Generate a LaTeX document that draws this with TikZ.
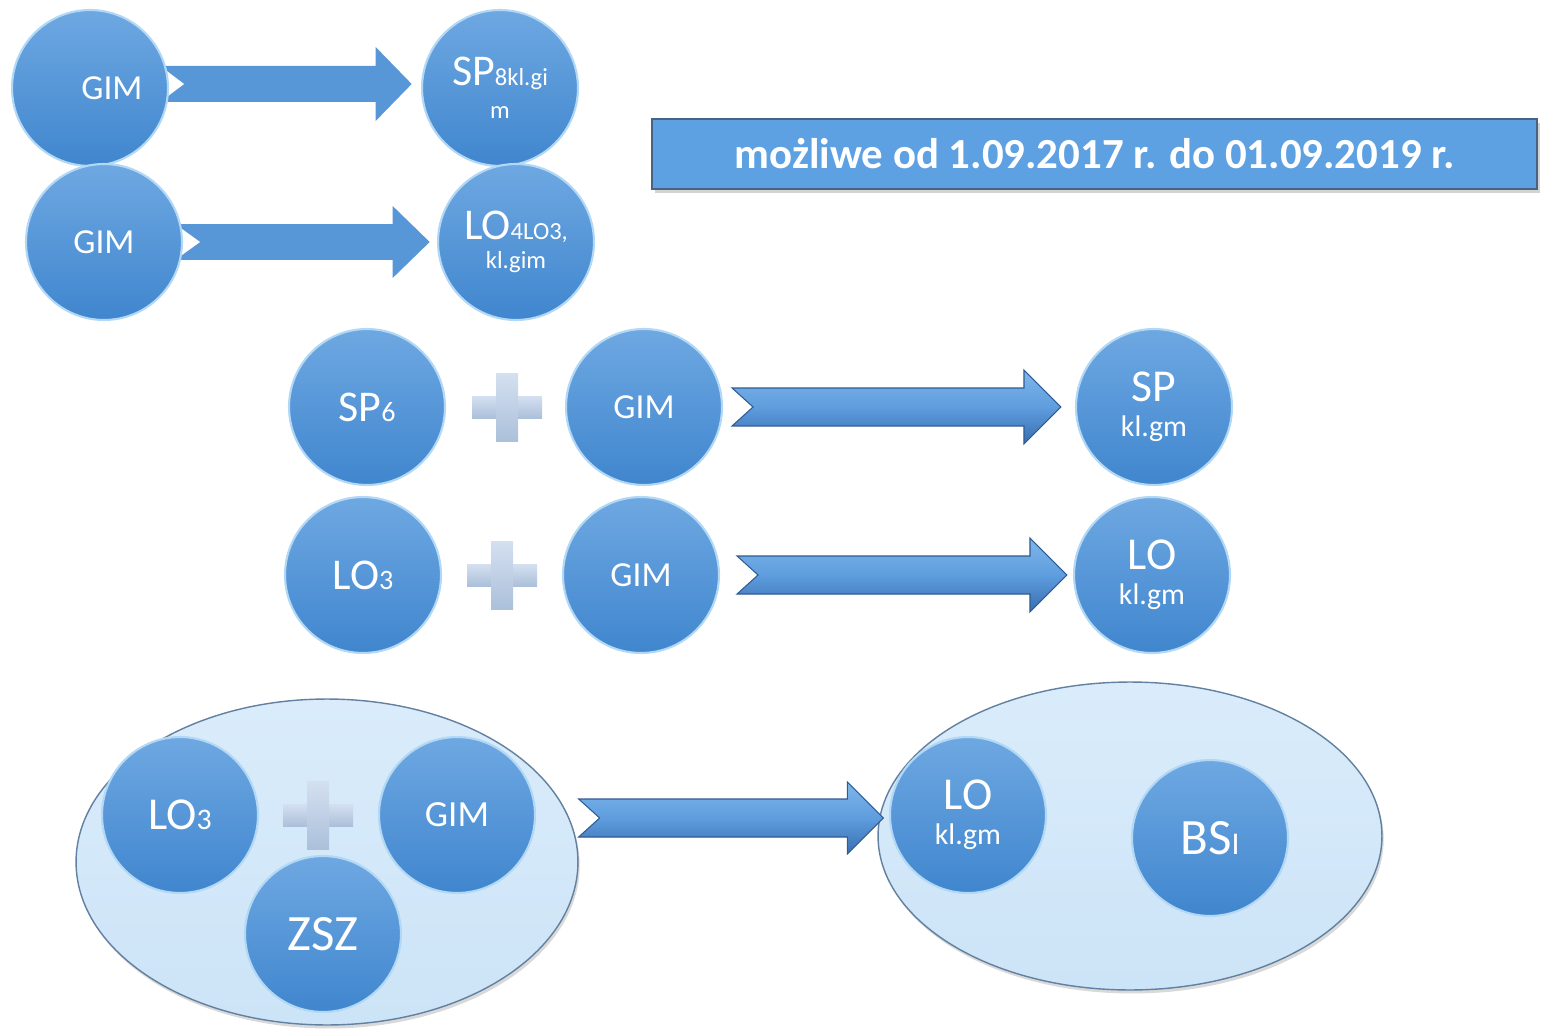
\documentclass[tikz,border=0pt]{standalone}
\usepackage{fontspec}
\setmainfont{Carlito}
\usetikzlibrary{calc,shadows,shapes.geometric}
\definecolor{cirtop}{RGB}{110,168,226}
\definecolor{cirbot}{RGB}{64,134,206}
\definecolor{cirrim}{RGB}{178,216,245}
\definecolor{arrflat}{RGB}{88,151,215}
\definecolor{arrtop}{RGB}{128,182,234}
\definecolor{arrmid}{RGB}{94,157,222}
\definecolor{arrbot}{RGB}{56,110,176}
\definecolor{arrline}{RGB}{48,92,148}
\definecolor{plustop}{RGB}{212,224,240}
\definecolor{plusbot}{RGB}{172,192,218}
\definecolor{ellfill}{RGB}{204,228,247}
\definecolor{elltop}{RGB}{218,236,251}
\definecolor{elldraw}{RGB}{98,128,160}
\definecolor{hdrfill}{RGB}{94,161,226}
\definecolor{hdrdraw}{RGB}{72,100,130}
\newcommand\fsz[1]{\fontsize{#1}{#1}\selectfont}
% block arrow: tail, tip, shaft half, head half, head length, notch, style
\newcommand\blockarrow[7]{%
  \path[#7] let \p1=(#1), \p2=(#2) in
   (\x1,{\y2+#3}) -- ({\x2-#5},{\y2+#3}) -- ({\x2-#5},{\y2+#4}) -- (\x2,\y2)
   -- ({\x2-#5},{\y2-#4}) -- ({\x2-#5},{\y2-#3}) -- (\x1,{\y2-#3})
   -- ({\x1+#6},\y2) -- cycle;}
\newcommand\plussign[1]{%
  \path[plusst] ($(#1)+(-35,-11)$) rectangle ($(#1)+(35,11)$);
  \path[plusst] ($(#1)+(-11,-34)$) rectangle ($(#1)+(11,34)$);}
\tikzset{
  circ/.style={circle, minimum size=3.12cm, inner sep=0pt, top color=cirtop,
    bottom color=cirbot, draw=cirrim, line width=1.2pt, text=white, align=center},
  ghost/.style={circle, minimum size=3.12cm, inner sep=0pt},
  flatarr/.style={fill=arrflat},
  bevarr/.style={top color=arrtop, bottom color=arrbot, middle color=arrmid,
    draw=arrline, line width=0.6pt},
  plusst/.style={top color=plustop, bottom color=plusbot},
  bigell/.style={ellipse, inner sep=0pt, top color=elltop, bottom color=ellfill,
    draw=elldraw, line width=0.8pt,
    drop shadow={shadow xshift=1pt, shadow yshift=-2pt, opacity=0.3}},
  hdr/.style={rectangle, fill=hdrfill, draw=hdrdraw, line width=0.8pt,
    minimum width=17.7cm, minimum height=1.4cm, text=white, font=\bfseries,
    drop shadow={shadow xshift=1.5pt, shadow yshift=-2pt, opacity=0.35}}
}
\begin{document}
\begin{tikzpicture}[x=0.02cm, y=-0.02cm]
\useasboundingbox (0,0) rectangle (1544,1030);
% header
\node[hdr] (h) at (1094.5,154) {\fsz{24.4}możliwe od 1.09.2017 r. do 01.09.2019 r.};
% placement helpers for top-row arrows (drawn below circles)
\node[ghost] (g1p) at (90,88) {};
\node[ghost] (sp8p) at (500,88) {};
\node[ghost] (g2p) at (104,242) {};
\node[ghost] (lo4p) at (516,242) {};
\coordinate (a1s) at ($(g1p.east)+(-8,-4)$);
\coordinate (a1e) at ($(sp8p.west)+(-10,-4)$);
\coordinate (a2s) at ($(g2p.east)+(-7,0)$);
\coordinate (a2e) at ($(lo4p.west)+(-8,0)$);
\blockarrow{a1s}{a1e}{0.36cm}{0.74cm}{0.72cm}{0.48cm}{flatarr}
\blockarrow{a2s}{a2e}{0.36cm}{0.72cm}{0.74cm}{0.5cm}{flatarr}
% top circles
\node[circ] (g1) at (g1p) {\fsz{20}\hspace*{0.88cm}GIM};
\node[circ] (sp8) at (sp8p) {\fsz{25}SP\fsz{14}8kl.gi\\[6.5pt]\fsz{14}m};
\node[circ] (g2) at (g2p) {\fsz{20}GIM};
\node[circ] (lo4) at (lo4p) {\fsz{25}LO\fsz{14}4LO3,\\[4.7pt]\fsz{14}kl.gim};
% middle rows
\node[circ] (sp6) at (367,407) {\fsz{25}SP\fsz{16}6};
\coordinate (p1) at (507,407);
\plussign{p1}
\node[circ] (g3) at (644,407) {\fsz{20}GIM};
\node[circ] (spk) at (1154,407) {\fsz{26}SP\\[8pt]\fsz{17}kl.gm};
\coordinate (a3s) at ($(g3.east)+(9,0)$);
\coordinate (a3e) at ($(spk.west)+(-14,0)$);
\blockarrow{a3s}{a3e}{0.38cm}{0.74cm}{0.74cm}{0.42cm}{bevarr}
\node[circ] (lo3a) at (363,575) {\fsz{25}LO\fsz{16}3};
\coordinate (p2) at (502,575);
\plussign{p2}
\node[circ] (g4) at (641,575) {\fsz{20}GIM};
\node[circ] (lok) at (1152,575) {\fsz{26}LO\\[8pt]\fsz{17}kl.gm};
\coordinate (a4s) at ($(g4.east)+(17,0)$);
\coordinate (a4e) at ($(lok.west)+(-6,0)$);
\blockarrow{a4s}{a4e}{0.38cm}{0.74cm}{0.74cm}{0.42cm}{bevarr}
% bottom left group
\node[bigell, minimum width=10.04cm, minimum height=6.52cm] (E1) at (327,862) {};
\node[circ] (lo3b) at (180,815) {\fsz{26}LO\fsz{17}3};
\node[circ] (g5) at (457,815) {\fsz{21}GIM};
\coordinate (p3) at (318,815);
\plussign{p3}
\node[circ] (zsz) at (323,934) {\fsz{29}ZSZ};
% bottom right group
\node[bigell, minimum width=10.08cm, minimum height=6.16cm] (E2) at (1130,836) {};
\node[circ] (lok2) at (968,815) {\fsz{26}LO\\[8pt]\fsz{17}kl.gm};
\node[circ] (bsi) at (1210,838) {\fsz{29}BS\fsz{18}I};
\coordinate (a5s) at ($(E1.east)+(0,-44)$);
\coordinate (a5e) at ($(E2.west)+(6,-18)$);
\blockarrow{a5s}{a5e}{0.38cm}{0.72cm}{0.72cm}{0.42cm}{bevarr}
\end{tikzpicture}
\end{document}
